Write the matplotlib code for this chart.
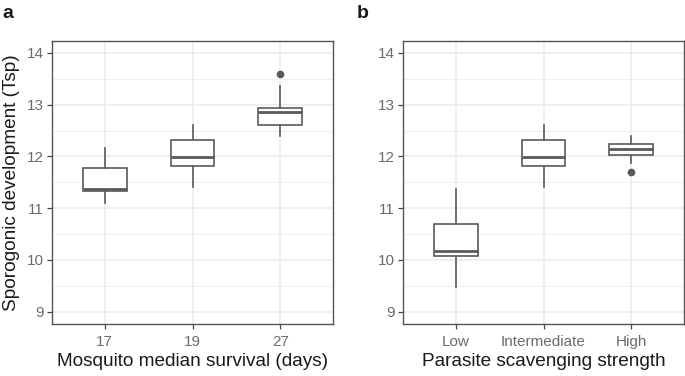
import matplotlib
matplotlib.use("Agg")
import matplotlib.pyplot as plt
from matplotlib.ticker import MultipleLocator

plt.rcParams['font.family'] = ['Liberation Sans', 'DejaVu Sans']

# Panel a data
cats_a = ["17", "19", "27"]
whislo_a = [11.10, 11.41, 12.39]
q1_a = [11.33, 11.82, 12.60]
med_a = [11.37, 11.99, 12.86]
q3_a = [11.77, 12.32, 12.93]
whishi_a = [12.17, 12.60, 13.36]
fliers_a = [[], [], [13.60]]

# Panel b data
cats_b = ["Low", "Intermediate", "High"]
whislo_b = [9.48, 11.41, 11.87]
q1_b = [10.08, 11.82, 12.02]
med_b = [10.17, 11.99, 12.14]
q3_b = [10.70, 12.32, 12.23]
whishi_b = [11.36, 12.60, 12.39]
fliers_b = [[], [], [11.70]]

xlabel_a = "Mosquito median survival (days)"
xlabel_b = "Parasite scavenging strength"
ylabel = "Sporogonic development (Tsp)"
yticks = [9, 10, 11, 12, 13, 14]

fig = plt.figure(figsize=(6.85, 3.76), dpi=100)
ax_a = fig.add_axes([52/685, 52/376, (333-52)/685, (324-41)/376])
ax_b = fig.add_axes([403/685, 52/376, (684-403)/685, (324-41)/376])

line_col = "#5a5a5a"
grid_col = "#ebebeb"

def draw(ax, cats, wl, q1, med, q3, wh, fl, xlabel):
    stats = []
    for i in range(len(cats)):
        stats.append(dict(whislo=wl[i], q1=q1[i], med=med[i], q3=q3[i],
                          whishi=wh[i], fliers=fl[i], label=cats[i]))
    ax.bxp(stats, positions=range(1, len(cats) + 1), widths=0.5,
           showcaps=False, patch_artist=True,
           boxprops=dict(facecolor="white", edgecolor=line_col, linewidth=1.2),
           medianprops=dict(color=line_col, linewidth=2.0),
           whiskerprops=dict(color=line_col, linewidth=1.2),
           flierprops=dict(marker='o', markerfacecolor=line_col,
                           markeredgecolor=line_col, markersize=4.5))
    ax.set_xlim(0.4, len(cats) + 0.6)
    ax.set_ylim(8.76, 14.23)
    ax.set_yticks(yticks)
    ax.yaxis.set_minor_locator(MultipleLocator(0.5))
    ax.grid(True, which='major', color=grid_col, linewidth=1.1, zorder=0)
    ax.grid(True, which='minor', axis='y', color=grid_col, linewidth=0.6, zorder=0)
    ax.set_axisbelow(True)
    for s in ax.spines.values():
        s.set_color("#555555")
        s.set_linewidth(1.0)
    ax.tick_params(axis='both', which='major', length=3.5, width=0.9,
                   color="#444444", labelcolor="#6b6b6b", labelsize=11)
    ax.tick_params(axis='x', which='major', pad=4.5)
    ax.tick_params(axis='y', which='major', pad=2.5)
    ax.tick_params(axis='y', which='minor', length=0)
    ax.set_xlabel(xlabel, fontsize=13.7, color="#1a1a1a", labelpad=3)

draw(ax_a, cats_a, whislo_a, q1_a, med_a, q3_a, whishi_a, fliers_a, xlabel_a)
draw(ax_b, cats_b, whislo_b, q1_b, med_b, q3_b, whishi_b, fliers_b, xlabel_b)
ax_a.set_ylabel(ylabel, fontsize=13.7, color="#1a1a1a", labelpad=5)

fig.text(2/685, 1 - 18/376, "a", fontsize=14, fontweight='bold', color="#1a1a1a")
fig.text(357/685, 1 - 18/376, "b", fontsize=14, fontweight='bold', color="#1a1a1a")

fig.savefig("out.png", dpi=100)
